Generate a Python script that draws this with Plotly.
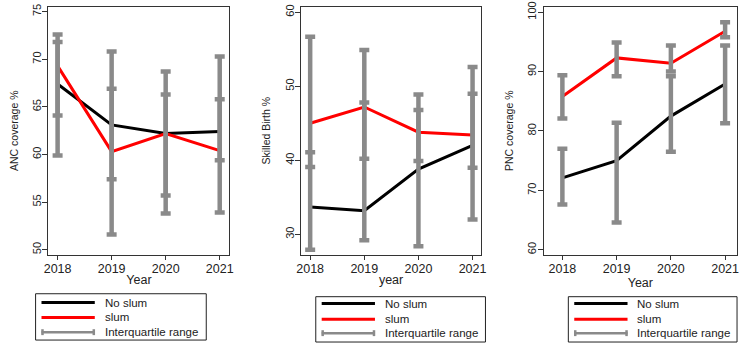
import plotly.graph_objects as go

W, H = 745, 344

years = [2018, 2019, 2020, 2021]

anc_noslum = [67.4, 63.1, 62.2, 62.4]
anc_slum = [69.3, 60.3, 62.2, 60.4]
anc_noslum_q1 = [59.9, 51.6, 53.8, 53.9]
anc_noslum_q3 = [71.8, 66.9, 66.3, 65.8]
anc_slum_q1 = [64.1, 57.4, 55.7, 59.4]
anc_slum_q3 = [72.6, 70.8, 68.7, 70.3]

sb_noslum = [33.7, 33.2, 38.8, 42.0]
sb_slum = [45.0, 47.2, 43.8, 43.4]
sb_noslum_q1 = [27.9, 29.2, 28.4, 32.0]
sb_noslum_q3 = [41.1, 47.8, 46.8, 49.0]
sb_slum_q1 = [39.1, 40.2, 39.9, 39.0]
sb_slum_q3 = [56.7, 54.9, 48.9, 52.6]

pnc_noslum = [72.1, 75.0, 82.5, 87.9]
pnc_slum = [85.8, 92.3, 91.4, 96.8]
pnc_noslum_q1 = [67.6, 64.6, 76.5, 81.3]
pnc_noslum_q3 = [77.0, 81.4, 89.2, 94.4]
pnc_slum_q1 = [82.1, 89.2, 90.0, 95.8]
pnc_slum_q3 = [89.4, 94.9, 94.4, 98.3]

panel_titles_y = ["ANC coverage %", "Skilled Birth %", "PNC coverage %"]
panel_titles_x = ["Year", "year", "Year"]
legend_labels = ["No slum", "slum", "Interquartile range"]

BLACK = "#000000"
RED = "#ff0000"
GRAY = "#8a8a8a"
FONT = "Liberation Sans, Arial, sans-serif"

panels = [
    dict(noslum=anc_noslum, slum=anc_slum,
         iqr=[(anc_noslum_q1, anc_noslum_q3), (anc_slum_q1, anc_slum_q3)],
         xpx=(44, 227.5), xr=[2017.83, 2021.18], yr=[49.46, 75.52], dt=5),
    dict(noslum=sb_noslum, slum=sb_slum,
         iqr=[(sb_noslum_q1, sb_noslum_q3), (sb_slum_q1, sb_slum_q3)],
         xpx=(300, 482.7), xr=[2017.83, 2021.16], yr=[27.23, 60.75], dt=10),
    dict(noslum=pnc_noslum, slum=pnc_slum,
         iqr=[(pnc_noslum_q1, pnc_noslum_q3), (pnc_slum_q1, pnc_slum_q3)],
         xpx=(546, 742), xr=[2017.655, 2021.22], yr=[59.14, 100.93], dt=10),
]

fig = go.Figure()
ytop, ybot = 1.7, 253.5
layout = dict(
    width=W, height=H, autosize=False,
    margin=dict(l=0, r=0, t=0, b=0),
    paper_bgcolor="white", plot_bgcolor="white",
    showlegend=False,
    font=dict(family=FONT, size=11, color="#222"),
)

for i, p in enumerate(panels):
    sfx = "" if i == 0 else str(i + 1)
    xa, ya = "x" + sfx, "y" + sfx
    fig.add_trace(go.Scatter(x=years, y=p["noslum"], mode="lines",
                             line=dict(color=BLACK, width=3), xaxis=xa, yaxis=ya,
                             name=legend_labels[0]))
    fig.add_trace(go.Scatter(x=years, y=p["slum"], mode="lines",
                             line=dict(color=RED, width=3), xaxis=xa, yaxis=ya,
                             name=legend_labels[1]))
    for lo, hi in p["iqr"]:
        mid = [(a + b) / 2 for a, b in zip(lo, hi)]
        half = [(b - a) / 2 for a, b in zip(lo, hi)]
        fig.add_trace(go.Scatter(x=years, y=mid, mode="markers",
                                 marker=dict(size=1, opacity=0),
                                 error_y=dict(type="data", array=half, symmetric=True,
                                              color=GRAY, thickness=4.5, width=5),
                                 xaxis=xa, yaxis=ya, name=legend_labels[2]))
    x0, x1 = p["xpx"]
    layout["xaxis" + sfx] = dict(
        domain=[x0 / W, x1 / W], range=p["xr"], anchor=ya,
        tickmode="array", tickvals=years, ticktext=[str(y) for y in years],
        ticks="outside", ticklen=4, tickcolor="#333", tickwidth=1,
        showline=True, linecolor="#333", linewidth=1, mirror=True,
        showgrid=False, zeroline=False, ticklabeloverflow="allow",
        ticklabelstandoff=-2,
        tickfont=dict(size=12.5, color="#222"),
        title=dict(text=panel_titles_x[i], standoff=0, font=dict(size=12.5, color="#222")),
    )
    layout["yaxis" + sfx] = dict(
        domain=[1 - ybot / H, 1 - ytop / H], range=p["yr"], anchor=xa,
        dtick=p["dt"], tick0=0,
        ticks="outside", ticklen=5, tickcolor="#333", tickwidth=1,
        showline=True, linecolor="#333", linewidth=1, mirror=True,
        showgrid=False, zeroline=False, tickangle=-90, ticklabeloverflow="allow",
        ticklabelstandoff=-3,
        tickfont=dict(size=11, color="#222"),
        title=dict(text=panel_titles_y[i], standoff=10, font=dict(size=10.5, color="#222")),
    )

fig.update_layout(**layout)

# Manual legend boxes (one per panel)
legends = [
    dict(box=(31, 293, 204, 340), lx=37, tx=99, rows=(302, 317, 332)),
    dict(box=(315, 296, 487, 342), lx=321, tx=383, rows=(303, 319, 333)),
    dict(box=(571, 296, 742, 342), lx=577, tx=639, rows=(303, 319, 333)),
]
px = lambda v: v / W
py = lambda v: 1 - v / H
shapes, annos = [], []
for lg in legends:
    bx0, by0, bx1, by1 = lg["box"]
    shapes.append(dict(type="rect", xref="paper", yref="paper",
                       x0=px(bx0), x1=px(bx1), y0=py(by1), y1=py(by0),
                       line=dict(color="#222", width=1), fillcolor="white"))
    cols = [BLACK, RED, GRAY]
    for k, (ry, c) in enumerate(zip(lg["rows"], cols)):
        shapes.append(dict(type="line", xref="paper", yref="paper",
                           x0=px(lg["lx"]), x1=px(lg["lx"] + 54), y0=py(ry), y1=py(ry),
                           line=dict(color=c, width=3 if k < 2 else 2.5)))
        if k == 2:
            for ex in (lg["lx"] + 1, lg["lx"] + 53):
                shapes.append(dict(type="line", xref="paper", yref="paper",
                                   x0=px(ex), x1=px(ex), y0=py(ry - 3), y1=py(ry + 3),
                                   line=dict(color=c, width=2.5)))
        annos.append(dict(xref="paper", yref="paper", x=px(lg["tx"]), y=py(ry),
                          xanchor="left", yanchor="middle", showarrow=False,
                          text=legend_labels[k], font=dict(size=11.5, color="#222")))
fig.update_layout(shapes=shapes, annotations=annos)

fig.write_html("out.html", config={"displayModeBar": False},
               post_script="document.body.style.margin='0';document.body.style.overflow='hidden';")
